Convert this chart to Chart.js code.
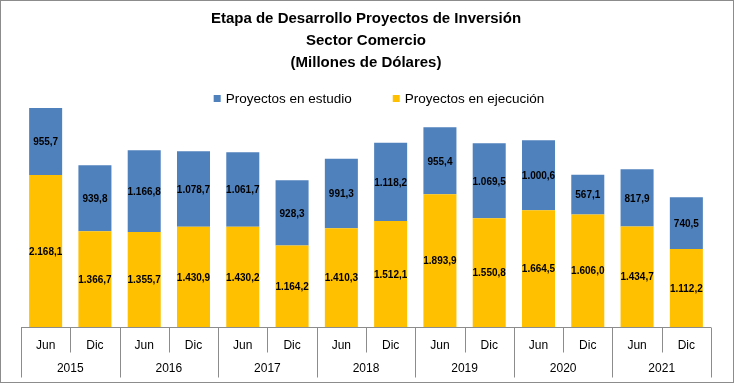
<!DOCTYPE html>
<html>
<head>
<meta charset="utf-8">
<script src="https://cdn.jsdelivr.net/npm/chart.js@4"></script>
<style>
  body { margin: 0; background: #fff; }
</style>
</head>
<body>
<canvas id="chart-comercio" width="735" height="384"></canvas>
<script>

var periodos = ['Jun', 'Dic', 'Jun', 'Dic', 'Jun', 'Dic', 'Jun', 'Dic', 'Jun', 'Dic', 'Jun', 'Dic', 'Jun', 'Dic'];
var anios = ['2015', '2016', '2017', '2018', '2019', '2020', '2021'];
var en_estudio = [955.7, 939.8, 1166.8, 1078.7, 1061.7, 928.3, 991.3, 1118.2, 955.4, 1069.5, 1000.6, 567.1, 817.9, 740.5];
var en_ejecucion = [2168.1, 1366.7, 1355.7, 1430.9, 1430.2, 1164.2, 1410.3, 1512.1, 1893.9, 1550.8, 1664.5, 1606.0, 1434.7, 1112.2];

var FONT = "'Liberation Sans', Arial, sans-serif";

// 1234.5 -> "1.234,5"
function formato(v) {
  var partes = v.toFixed(1).split('.');
  var ent = partes[0].replace(/\B(?=(\d{3})+(?!\d))/g, '.');
  return ent + ',' + partes[1];
}

const etiquetas_barras = {
  id: 'etiquetas_barras',
  afterDatasetsDraw(chart) {
    const ctx = chart.ctx;
    ctx.save();
    ctx.font = 'bold 10px ' + FONT;
    ctx.fillStyle = '#000';
    ctx.textAlign = 'center';
    ctx.textBaseline = 'middle';
    chart.data.datasets.forEach(function (ds, i) {
      chart.getDatasetMeta(i).data.forEach(function (bar, j) {
        const p = bar.getProps(['x', 'y', 'base'], true);
        ctx.fillText(formato(ds.data[j]), p.x, (p.y + p.base) / 2 + 1);
      });
    });
    ctx.restore();
  }
};

// legend drawn by hand so the gap between items does not add height
const leyenda = {
  id: 'leyenda',
  afterDraw(chart) {
    const ctx = chart.ctx;
    ctx.save();
    ctx.font = '13.5px ' + FONT;
    ctx.textBaseline = 'middle';
    ctx.textAlign = 'left';
    const items = chart.data.datasets.slice().reverse();
    const gap = 41;
    let total = 0;
    items.forEach(function (ds, k) {
      total += 12 + ctx.measureText(ds.label).width + (k ? gap : 0);
    });
    let x = 379 - total / 2;
    const y = 99;
    items.forEach(function (ds) {
      ctx.fillStyle = ds.backgroundColor;
      ctx.fillRect(x, y - 4, 7, 7);
      ctx.fillStyle = '#000';
      ctx.fillText(ds.label, x + 12, y);
      x += 12 + ctx.measureText(ds.label).width + gap;
    });
    ctx.restore();
  }
};

const eje_categorias = {
  id: 'eje_categorias',
  beforeDraw(chart) {
    const ctx = chart.ctx;
    ctx.save();
    ctx.strokeStyle = '#8c8c8c';
    ctx.lineWidth = 1;
    ctx.strokeRect(0.5, 0.5, 733, 382);
    ctx.restore();
  },
  afterDraw(chart) {
    const ctx = chart.ctx;
    const xs = chart.scales.x;
    const area = chart.chartArea;
    const n = periodos.length;
    const ancho = (area.right - area.left) / n;
    const y0 = Math.round(area.bottom) + 0.5;
    ctx.save();
    ctx.strokeStyle = '#8c8c8c';
    ctx.lineWidth = 1;
    ctx.beginPath();
    ctx.moveTo(area.left, y0);
    ctx.lineTo(area.right, y0);
    for (let i = 0; i <= n; i++) {
      const x = Math.round(i < n ? xs.getPixelForValue(i) - ancho / 2 : area.right) + 0.5;
      ctx.moveTo(x, y0);
      ctx.lineTo(x, y0 + (i % 2 === 0 ? 50 : 25));
    }
    ctx.stroke();
    ctx.fillStyle = '#000';
    ctx.font = '12px ' + FONT;
    ctx.textAlign = 'center';
    ctx.textBaseline = 'middle';
    periodos.forEach(function (p, i) {
      ctx.fillText(p, xs.getPixelForValue(i), y0 + 18);
    });
    anios.forEach(function (a, k) {
      const x = (xs.getPixelForValue(2 * k) + xs.getPixelForValue(2 * k + 1)) / 2;
      ctx.fillText(a, x, y0 + 41);
    });
    ctx.restore();
  }
};

const data_comercio = {
  labels: periodos,
  datasets: [{
    label: 'Proyectos en ejecución',
    data: en_ejecucion,
    backgroundColor: '#FFC000',
    categoryPercentage: 1,
    barPercentage: 0.67
  }, {
    label: 'Proyectos en estudio',
    data: en_estudio,
    backgroundColor: '#4F81BD',
    categoryPercentage: 1,
    barPercentage: 0.67
  }]
};

const config_comercio = {
  type: 'bar',
  data: data_comercio,
  options: {
    responsive: false,
    animation: false,
    layout: { padding: { left: 21, right: 24, bottom: 57, top: 0 } },
    scales: {
      x: { stacked: true, display: false },
      y: { stacked: true, display: false, min: 0, max: 3150 }
    },
    plugins: {
      tooltip: { enabled: false },
      legend: { display: false },
      title: {
        display: true,
        text: ['Etapa de Desarrollo Proyectos de Inversión', 'Sector Comercio', '(Millones de Dólares)'],
        color: '#000',
        font: { family: FONT, size: 15, weight: 'bold', lineHeight: 1.45 },
        padding: { top: 8, bottom: 33 }
      }
    }
  },
  plugins: [etiquetas_barras, leyenda, eje_categorias]
};

const grafico_comercio = new Chart(
  document.getElementById('chart-comercio'),
  config_comercio
);
</script>
</body>
</html>
